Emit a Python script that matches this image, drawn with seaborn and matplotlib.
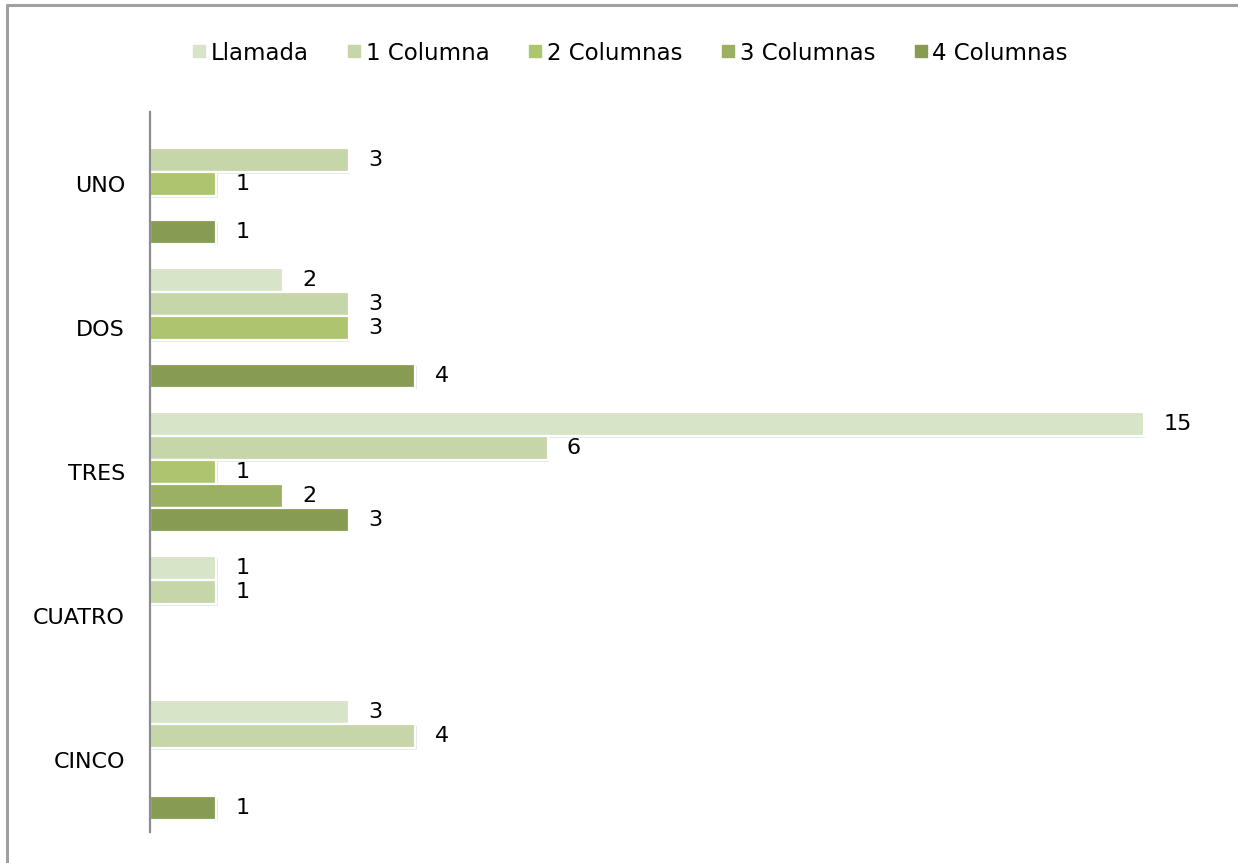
import numpy as np
import pandas as pd
import matplotlib
matplotlib.use("Agg")
import matplotlib.pyplot as plt
import matplotlib.patheffects as pe
from matplotlib.lines import Line2D
import seaborn as sns

categories = ["UNO", "DOS", "TRES", "CUATRO", "CINCO"]
series = ["Llamada", "1 Columna", "2 Columnas", "3 Columnas", "4 Columnas"]
llamada = [np.nan, 2, 15, 1, 3]
col1 = [3, 3, 6, 1, 4]
col2 = [1, 3, 1, np.nan, np.nan]
col3 = [np.nan, np.nan, 2, np.nan, np.nan]
col4 = [1, 4, 3, np.nan, 1]
colors = ["#D8E4C8", "#C6D6A9", "#ADC56F", "#9BB062", "#879B52"]

values = [llamada, col1, col2, col3, col4]
rows = []
for s, vals in zip(series, values):
    for c, v in zip(categories, vals):
        if not np.isnan(v):
            rows.append({"cat": c, "serie": s, "val": v})
df = pd.DataFrame(rows)

sns.set_theme(style="white")
plt.rcParams["font.family"] = ["DejaVu Sans"]

W, H = 1238, 863
fig = plt.figure(figsize=(W / 100, H / 100), dpi=100)
ax = fig.add_axes([150 / W, (H - 832) / H, 1060 / W, 720 / H])

sns.barplot(data=df, y="cat", x="val", hue="serie", order=categories,
            hue_order=series, palette=colors, saturation=1, orient="h",
            width=0.83, dodge=True, edgecolor="white", linewidth=1.6,
            legend=False, ax=ax)

shadow = [pe.SimplePatchShadow(offset=(1.2, -1.2), shadow_rgbFace="#B0B0B0", alpha=0.3),
          pe.Normal()]
for p in ax.patches:
    p.set_path_effects(shadow)

for cont in ax.containers:
    ax.bar_label(cont, fmt="%g", padding=14, fontsize=16, color="black")

ax.set_xlim(0, 16)
ax.set_xlabel("")
ax.set_ylabel("")
ax.set_xticks([])
ax.tick_params(axis="y", length=0, pad=18, labelsize=16, labelcolor="black")
for side in ["top", "right", "bottom"]:
    ax.spines[side].set_visible(False)
ax.spines["left"].set_color("#8C8C8C")
ax.spines["left"].set_linewidth(1.6)

handles = [Line2D([], [], marker="s", linestyle="none", markersize=8,
                  markerfacecolor=c, markeredgecolor=c) for c in colors]
fig.legend(handles, series, loc="center", bbox_to_anchor=(0.508, (H - 53) / H),
           ncol=5, frameon=False, fontsize=16.5, handletextpad=0.1,
           columnspacing=1.6, handlelength=0.8, labelcolor="black")

# outer frame
fig.add_artist(Line2D([7 / W, 7 / W], [0, (H - 5) / H], color="#A0A0A0", lw=2.2,
                      transform=fig.transFigure))
fig.add_artist(Line2D([7 / W, 1], [(H - 5) / H, (H - 5) / H], color="#A0A0A0", lw=2.2,
                      transform=fig.transFigure))

fig.savefig("out.png", dpi=100, facecolor="white")
